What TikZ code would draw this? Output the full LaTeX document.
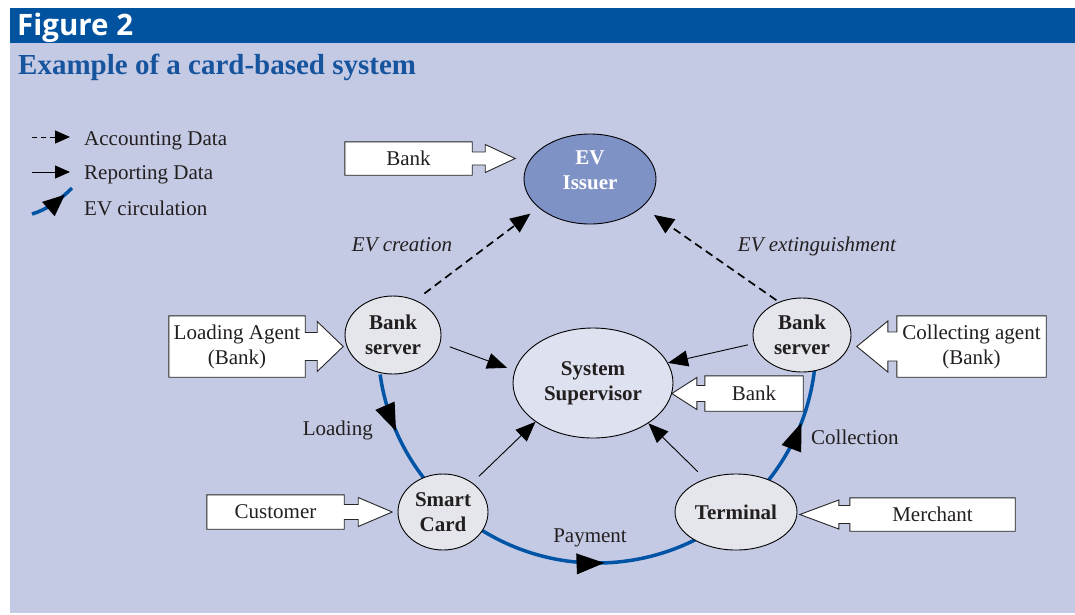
\documentclass[tikz,border=0pt]{standalone}
\usepackage{fontspec}
\setmainfont{Liberation Serif}
\newfontfamily\figfont{Open Sans}
\usetikzlibrary{shapes.geometric,arrows.meta,decorations.markings,calc}
\pgfdeclarelayer{bglayer}
\pgfdeclarelayer{midlayer}
\pgfsetlayers{bglayer,midlayer,main}
\definecolor{barblue}{RGB}{1,83,160}
\definecolor{bgblue}{RGB}{197,202,228}
\definecolor{titleblue}{RGB}{22,84,158}
\definecolor{evfill}{RGB}{127,146,198}
\definecolor{ssfill}{RGB}{222,225,239}
\definecolor{gfill}{RGB}{229,230,235}
\definecolor{evblue}{RGB}{0,84,165}
\definecolor{txt}{RGB}{35,31,32}
\newcommand\myBlockR[5]{\draw[bout] (#1.north west) -- (#1.north east) -- ($(#1.east)+(0,#2)$) -- ++(#3,0) -- ++(0,#4-#2) -- ++(#5,-#4) -- ++(-#5,-#4) -- ++(0,#4-#2) -- ++(-#3,0) -- (#1.south east) -- (#1.south west) -- cycle;}
\newcommand\myBlockL[5]{\draw[bout] (#1.north east) -- (#1.north west) -- ($(#1.west)+(0,#2)$) -- ++(-#3,0) -- ++(0,#4-#2) -- ++(-#5,-#4) -- ++(#5,-#4) -- ++(0,#4-#2) -- ++(#3,0) -- (#1.south west) -- (#1.south east) -- cycle;}
\begin{document}
\begin{tikzpicture}[x=1pt,y=1pt, font=\fontsize{21}{25}\selectfont, text=txt,
  ell/.style={ellipse, draw=black, line width=0.9pt, inner sep=0pt, align=center, font=\fontsize{21}{25}\selectfont\bfseries},
  gnode/.style={ell, fill=gfill},
  boxtext/.style={rectangle, inner sep=0pt, align=center},
  bout/.style={draw=black!85, line width=0.9pt, fill=white},
  rep/.style={line width=0.9pt, -{Triangle[length=20pt,width=16pt]}},
  acc/.style={line width=1.7pt, dash pattern=on 8pt off 5pt, -{Triangle[length=20pt,width=17pt]}},
  legacc/.style={line width=1pt, dash pattern=on 5pt off 4pt, -{Triangle[length=15pt,width=13pt]}},
  legrep/.style={line width=1pt, -{Triangle[length=15pt,width=13pt]}},
  evline/.style={draw=evblue, line width=3.5pt},
  lbl/.style={inner sep=0pt},
]
\useasboundingbox (0,0) rectangle (1075,-614);
\begin{pgfonlayer}{bglayer}
\fill[bgblue] (10,-43) rectangle (1075,-613);
\fill[barblue] (10,-8) rectangle (1075,-43);
\end{pgfonlayer}

% titles
\node[lbl, anchor=base west, text=white, font=\figfont\bfseries\fontsize{29.5}{32}\selectfont] (fig) at (17,-35) {Figure 2};
\node[lbl, anchor=base west, text=titleblue, font=\bfseries\fontsize{29}{32}\selectfont] (title) at (18,-74) {Example of a card-based system};

% legend
\coordinate (la1) at (32,-137); \coordinate (la2) at (70,-137);
\coordinate (lr1) at (32,-172); \coordinate (lr2) at (70,-172);
\coordinate (le1) at (32,-214); \coordinate (le2) at (72,-188);
\draw[legacc] (la1) -- (la2);
\draw[legrep] (lr1) -- (lr2);
\draw[evline, postaction={decorate}, decoration={markings,
  mark=at position 0.8 with {\arrow{Triangle[length=22pt,width=18pt,color=black]}}}]
  (le1) .. controls (46,-210) and (60,-200) .. (le2);
\node[lbl, anchor=base west] (lt1) at (84,-145) {Accounting Data};
\node[lbl, anchor=base west] (lt2) at (84,-179) {Reporting Data};
\node[lbl, anchor=base west] (lt3) at (84,-215) {EV circulation};

% EV circulation circle
\coordinate (cc) at (597,-344);
\begin{pgfonlayer}{midlayer}
\draw[evline, postaction={decorate}, decoration={markings,
  mark=at position 0.094 with {\arrow{Triangle[length=28pt,width=20pt,color=black]}},
  mark=at position 0.509 with {\arrow{Triangle[length=28pt,width=20pt,color=black]}},
  mark=at position 0.915 with {\arrow{Triangle[length=28pt,width=20pt,color=black]}}}]
  ($(cc)+(188:219)$) arc[start angle=188, end angle=353, radius=219];
\end{pgfonlayer}

% ellipses
\node[ell, fill=evfill, text=white, minimum width=132pt, minimum height=90pt] (evi) at (590,-179) {\raisebox{2pt}[0pt][0pt]{\begin{tabular}{@{}c@{}}EV\\Issuer\end{tabular}}};
\node[ell, fill=ssfill, minimum width=160pt, minimum height=110pt] (ss) at (593,-383) {System\\Supervisor};
\node[gnode, minimum width=96pt, minimum height=78pt] (bsl) at (393,-335) {Bank\\server};
\node[gnode, minimum width=98pt, minimum height=74pt] (bsr) at (802,-335) {Bank\\server};
\node[gnode, minimum width=90pt, minimum height=76pt] (sc) at (443,-512) {Smart\\Card};
\node[gnode, minimum width=122pt, minimum height=76pt] (term) at (736,-512) {Terminal};

% data arrows
\draw[acc, shorten <=11pt, shorten >=10pt] (bsl.57) -- (evi.209);
\draw[acc, shorten <=3pt, shorten >=14pt] (bsr.125) -- (evi.-28);
\draw[rep, shorten <=10pt, shorten >=8pt] (bsl.-10) -- (ss.171);
\draw[rep, shorten <=6pt] (bsr.190) -- (ss.15);
\draw[rep, shorten <=9pt] (sc.45) -- (ss.214);
\draw[rep, shorten <=10pt] (term.133) -- (ss.-36);

% labels
\node[lbl, anchor=base, font=\fontsize{21}{25}\selectfont\itshape] (lcre) at (402,-251) {EV creation};
\node[lbl, anchor=base, font=\fontsize{21}{25}\selectfont\itshape] (lext) at (817,-251) {EV extinguishment};
\node[lbl, anchor=base east] (lload) at (373,-435) {Loading};
\node[lbl, anchor=base] (lpay) at (590,-542) {Payment};
\node[lbl, anchor=base west] (lcol) at (811,-444) {Collection};

% block arrow boxes
\node[boxtext, minimum width=127pt, minimum height=33pt] (bk1) at (408.5,-158.5) {Bank};
\node[boxtext, minimum width=136pt, minimum height=61pt] (lag) at (237,-346.5) {Loading Agent\\(Bank)};
\node[boxtext, minimum width=149pt, minimum height=61pt] (cag) at (971.5,-346.5) {Collecting agent\\(Bank)};
\node[boxtext, minimum width=98pt, minimum height=35pt] (bk2) at (754,-393.5) {Bank};
\node[boxtext, minimum width=137pt, minimum height=34pt] (cust) at (275.5,-512) {Customer};
\node[boxtext, minimum width=165pt, minimum height=33pt] (merch) at (932.5,-514.5) {Merchant};
\begin{pgfonlayer}{midlayer}
\myBlockR{bk1}{6.5}{13}{14}{30}
\myBlockR{lag}{14}{12}{25}{26}
\myBlockL{cag}{14.5}{9}{25.5}{31}
\myBlockL{bk2}{8}{8}{16}{25}
\myBlockR{cust}{7.5}{14}{14.5}{34}
\myBlockL{merch}{9}{11}{14.5}{39}
\end{pgfonlayer}
\end{tikzpicture}
\end{document}
